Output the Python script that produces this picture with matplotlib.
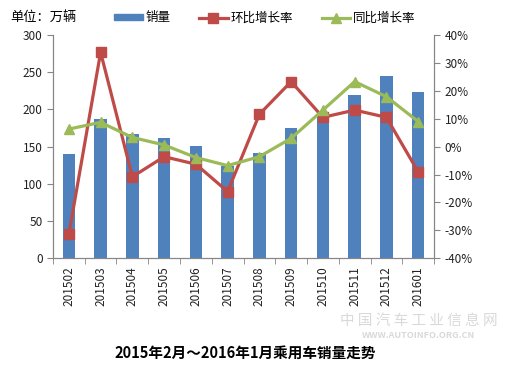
import matplotlib
matplotlib.use("Agg")
import matplotlib.pyplot as plt
from matplotlib.patches import Patch
from matplotlib.lines import Line2D
from matplotlib.ticker import FuncFormatter

plt.rcParams['font.family'] = ['Noto Sans CJK SC', 'DejaVu Sans']

# 数据
months = ['201502', '201503', '201504', '201505', '201506', '201507',
          '201508', '201509', '201510', '201511', '201512', '201601']
sales = [140, 187, 167, 162, 151, 124, 141, 175, 191, 219, 245, 223]      # 万辆
mom = [-31.4, 33.8, -10.8, -3.6, -6.3, -16.1, 11.6, 23.3, 10.5, 13.1, 10.5, -9.0]  # 环比 %
yoy = [6.3, 8.7, 3.3, 0.6, -3.9, -6.8, -3.6, 3.0, 13.1, 23.3, 17.9, 9.0]           # 同比 %

blue = '#4F81BD'
red = '#BE4B48'
green = '#9BBB59'
gray = '#868686'

fig = plt.figure(figsize=(5.14, 3.80), dpi=100)
ax = fig.add_axes([0.1031, 0.3203, 0.7413, 0.5876])
ax2 = ax.twinx()

x = list(range(len(months)))
ax.bar(x, sales, width=0.39, color=blue, zorder=2)
ax2.plot(x, mom, color=red, lw=2.3, marker='s', ms=6.5, zorder=3)
ax2.plot(x, yoy, color=green, lw=2.3, marker='^', ms=7, zorder=4)

ax.set_xlim(-0.5, 11.5)
ax.set_ylim(0, 300)
ax.set_yticks(range(0, 301, 50))
ax2.set_ylim(-40, 40)
ax2.set_yticks(range(-40, 41, 10))
ax2.yaxis.set_major_formatter(FuncFormatter(lambda v, p: '%d%%' % v))

ax.set_xticks(x)
ax.set_xticklabels(months, rotation=90)
ax.set_xticks([i - 0.5 for i in range(13)], minor=True)
ax.tick_params(axis='x', which='major', length=0, pad=6)
ax.tick_params(axis='x', which='minor', length=4, color=gray)
ax.tick_params(axis='y', length=4, color=gray)
ax2.tick_params(axis='y', length=4, color=gray)
for a in (ax, ax2):
    a.tick_params(labelsize=8.5, labelcolor='#222222')
    a.spines['top'].set_visible(False)
    for s in ('left', 'right', 'bottom'):
        a.spines[s].set_color(gray)

handles = [Patch(color=blue),
           Line2D([], [], color=red, lw=2.3, marker='s', ms=6.5),
           Line2D([], [], color=green, lw=2.3, marker='^', ms=7)]
fig.legend(handles, ['销量', '环比增长率', '同比增长率'], ncol=3, frameon=False,
           loc='center', bbox_to_anchor=(0.515, 0.953), fontsize=9,
           handlelength=2.3, handleheight=0.4, columnspacing=2.3, handletextpad=0.2)
fig.text(0.02, 0.953, '单位：万辆', fontsize=9.5, va='center', ha='left')

# 水印
fig.text(0.815, 0.155, '中 国 汽 车 工 业 信 息 网', fontsize=10.5, color='#d9d9d9',
         ha='center', va='center')
fig.text(0.815, 0.118, 'WWW.AUTOINFO.ORG.CN', fontsize=6.5, color='#d9d9d9',
         ha='center', va='center', fontweight='bold')

fig.text(0.477, 0.071, '2015年2月～2016年1月乘用车销量走势', fontsize=10.5,
         fontweight='bold', ha='center', va='center')

fig.savefig('out.png', dpi=100)
